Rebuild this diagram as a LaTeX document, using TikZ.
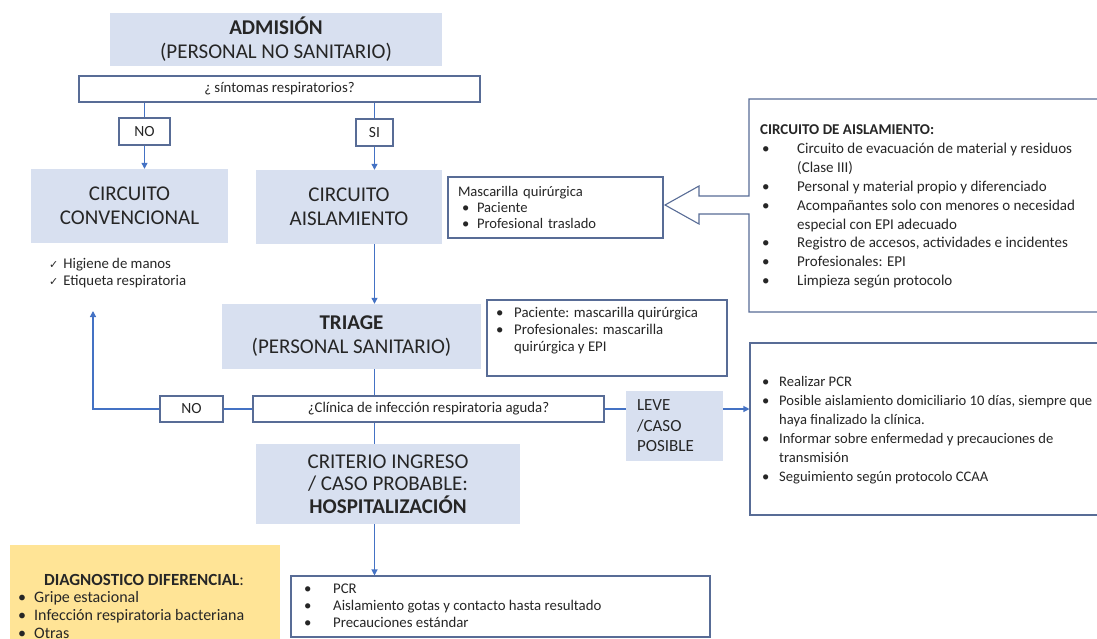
\documentclass[tikz,border=0pt]{standalone}
\usepackage{fontspec}
\setmainfont{Carlito}
\newfontfamily\symbfont{DejaVu Sans}
\usetikzlibrary{arrows.meta}
\definecolor{boxblue}{RGB}{216,224,240}
\definecolor{edgeblue}{RGB}{88,108,150}
\definecolor{lineblue}{RGB}{68,114,196}
\definecolor{diagyellow}{RGB}{255,228,150}
\definecolor{txtgray}{RGB}{38,38,38}
\newcommand{\itm}[1]{\makebox[#1][l]{\textbullet}}
\newcommand{\chkmark}{{\symbfont\fontsize{11}{11}\selectfont ✓}}
\tikzset{
	bluebox/.style={fill=boxblue, align=center, inner sep=0pt, text=txtgray},
	framebox/.style={draw=edgeblue, line width=1.1pt, fill=white, inner sep=0pt, text=txtgray},
	conn/.style={draw=lineblue, line width=1.2pt},
	arr/.style={conn, -{Triangle[length=6pt,width=6pt]}},
	big/.style={font=\fontsize{21}{24}\selectfont},
	body/.style={font=\fontsize{14.8}{17}\selectfont, align=left, text=txtgray, inner sep=0pt}
}
\begin{document}
\begin{tikzpicture}[x=1pt,y=-1pt]
	\useasboundingbox (0,0) rectangle (1097,638);

	\node[bluebox, big, minimum width=332pt, minimum height=53pt] (adm) at (276,39.5) {\textbf{ADMISIÓN}\\(PERSONAL NO SANITARIO)};
	\node[framebox, body, align=center, minimum width=401pt, minimum height=26pt] (q1) at (279.5,89) {¿ síntomas respiratorios?};
	\node[framebox, font=\fontsize{15.5}{18}\selectfont, minimum width=51pt, minimum height=27pt] (no1) at (144.5,131.5) {NO};
	\node[framebox, font=\fontsize{15.5}{18}\selectfont, minimum width=37pt, minimum height=27pt] (si1) at (374.5,132.5) {SI};
	\node[bluebox, big, minimum width=197pt, minimum height=74pt] (conv) at (129.5,206) {CIRCUITO\\CONVENCIONAL};
	\node[bluebox, big, minimum width=186pt, minimum height=74pt] (ais) at (349,207) {CIRCUITO\\AISLAMIENTO};
	\node[body, anchor=base west] (chk) at (49,285.5) {\chkmark\hspace{5pt}Higiene de manos\\\chkmark\hspace{5pt}Etiqueta respiratoria};

	\draw[conn] (no1.north |- q1.south) -- (no1.north);
	\draw[arr] (no1.south) -- (no1.south |- conv.north);
	\draw[conn] (si1.north |- q1.south) -- (si1.north);
	\draw[arr] (si1.south) -- (si1.south |- ais.north);

	\node[framebox, body, font=\fontsize{14.6}{16}\selectfont, text width=195pt, inner xsep=10pt, minimum height=61pt] (masc) at (555.5,207.5) {Mascarilla quirúrgica\\\hspace*{4pt}\itm{15pt}Paciente\\\hspace*{4pt}\itm{15pt}Profesional traslado};

	\draw[edgeblue, line width=1.1pt, fill=white] (1110,99) -- (749,99) -- (749,196) -- (699,196) -- (699,186) -- (665,205) -- (699,224) -- (699,214) -- (749,214) -- (749,312) -- (1110,312);
	\node[body, font=\fontsize{15}{18.8}\selectfont, anchor=base west] (aisltxt) at (760,285.5) {\textbf{CIRCUITO DE AISLAMIENTO:}\\[0.7pt]
		\hspace*{2pt}\itm{35pt}Circuito de evacuación de material y residuos\\
		\hspace*{37pt}(Clase III)\\
		\hspace*{2pt}\itm{35pt}Personal y material propio y diferenciado\\
		\hspace*{2pt}\itm{35pt}Acompañantes solo con menores o necesidad\\
		\hspace*{37pt}especial con EPI adecuado\\
		\hspace*{2pt}\itm{35pt}Registro de accesos, actividades e incidentes\\
		\hspace*{2pt}\itm{35pt}Profesionales: EPI\\
		\hspace*{2pt}\itm{35pt}Limpieza según protocolo};

	\node[bluebox, big, minimum width=259pt, minimum height=65pt] (triage) at (351.5,336.5) {\textbf{TRIAGE}\\(PERSONAL SANITARIO)};
	\node[framebox, minimum width=240pt, minimum height=76pt] (pac) at (607,338) {};
	\node[body, anchor=base west] (pactxt) at (496,351.5) {\itm{18pt}Paciente: mascarilla quirúrgica\\\itm{18pt}Profesionales: mascarilla\\\hspace*{18pt}quirúrgica y EPI};

	\draw[arr] (si1.south |- ais.south) -- (si1.south |- triage.north);

	\node[framebox, body, align=center, minimum width=351pt, minimum height=26pt] (q2) at (428.5,409) {¿Clínica de infección respiratoria aguda?};
	\node[framebox, font=\fontsize{15.5}{18}\selectfont, minimum width=63pt, minimum height=26pt] (no2) at (191.5,409) {NO};
	\node[bluebox, align=left, font=\fontsize{17}{20.5}\selectfont, text width=75pt, inner xsep=11pt, minimum height=70pt] (leve) at (674.5,426) {LEVE\\/CASO\\POSIBLE};
	\node[framebox, minimum width=360pt, minimum height=172pt] (domic) at (930,429) {};
	\node[body, font=\fontsize{14.6}{19}\selectfont, anchor=base west] (domtxt) at (762,481.5) {\itm{17pt}Realizar PCR\\
		\itm{17pt}Posible aislamiento domiciliario 10 días, siempre que\\
		\hspace*{17pt}haya finalizado la clínica.\\
		\itm{17pt}Informar sobre enfermedad y precauciones de\\
		\hspace*{17pt}transmisión\\
		\itm{17pt}Seguimiento según protocolo CCAA};
	\coordinate (up) at (93,311);

	\draw[conn] (si1.south |- triage.south) -- (si1.south |- q2.north);
	\draw[conn] (q2.west) -- (no2.east);
	\draw[arr] (no2.west) -| (up);
	\draw[conn] (q2.east) -- (leve.west |- q2.east);
	\draw[arr] (leve.east |- q2.east) -- (domic.west |- q2.east);

	\node[bluebox, big, font=\fontsize{21}{22.5}\selectfont, minimum width=264pt, minimum height=80pt] (crit) at (388,484) {CRITERIO INGRESO\\/ CASO PROBABLE:\\\textbf{HOSPITALIZACIÓN}};
	\node[framebox, minimum width=419pt, minimum height=61pt] (pcr) at (500.5,606.5) {};
	\node[body, anchor=base west] (pcrtxt) at (304,627.5) {\itm{29pt}PCR\\\itm{29pt}Aislamiento gotas y contacto hasta resultado\\\itm{29pt}Precauciones estándar};

	\draw[conn] (si1.south |- q2.south) -- (si1.south |- crit.north);
	\draw[arr] (si1.south |- crit.south) -- (si1.south |- pcr.north);

	\fill[diagyellow] (10,545) rectangle (280,650);
	\node[body, font=\fontsize{17}{18}\selectfont, anchor=base] (diagtit) at (144,585) {\textbf{DIAGNOSTICO DIFERENCIAL}:};
	\node[body, font=\fontsize{16}{17.8}\selectfont, anchor=base west] (diaglist) at (18,638) {\itm{16pt}Gripe estacional\\\itm{16pt}Infección respiratoria bacteriana\\\itm{16pt}Otras};
\end{tikzpicture}
\end{document}
